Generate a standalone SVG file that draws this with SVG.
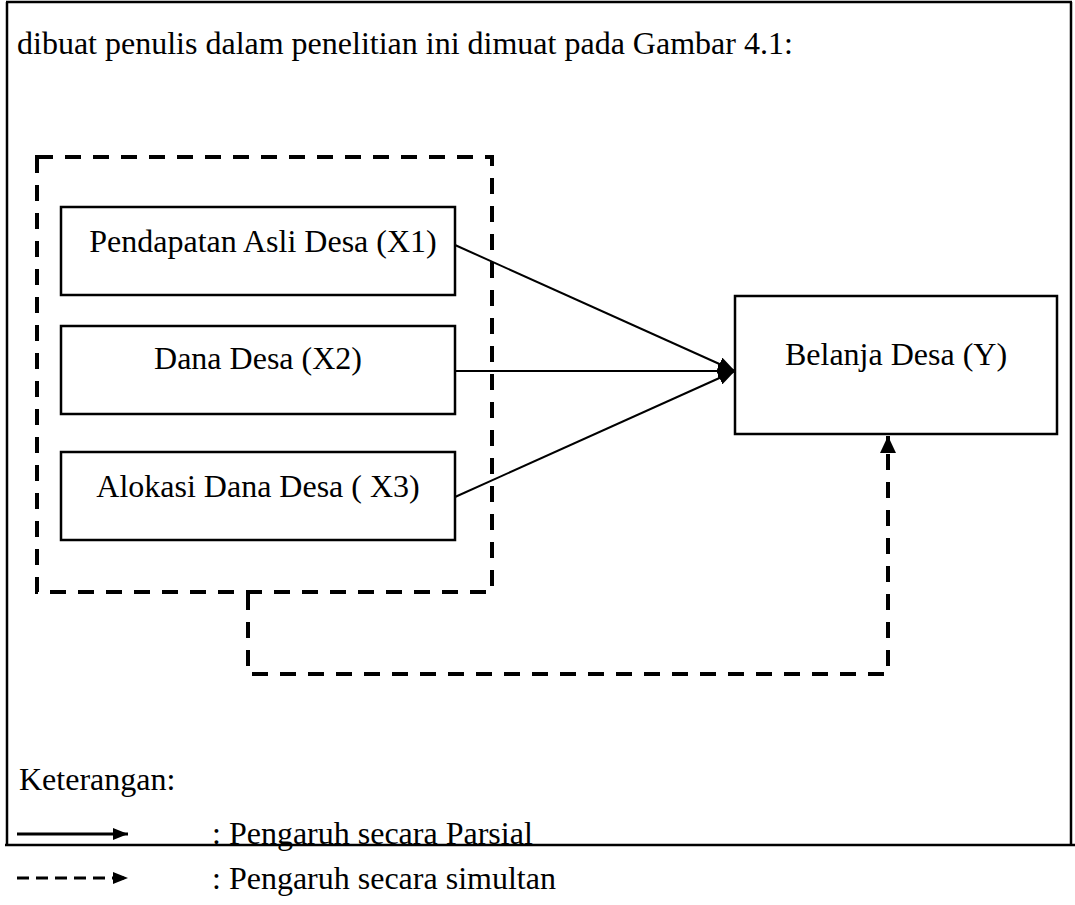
<svg xmlns="http://www.w3.org/2000/svg" width="1075" height="905" viewBox="0 0 1075 905">
<style>
  .txt { font-family: "Liberation Serif", "Times New Roman", serif; font-size: 32px; fill: #000; }
  .box { fill: #fff; stroke: #000; stroke-width: 2.5; }
  .solid { fill: none; stroke: #000; stroke-width: 2; }
  .dash { fill: none; stroke: #000; stroke-width: 4; stroke-dasharray: 16 12; }
  .frame { fill: none; stroke: #000; stroke-width: 2.5; }
</style>
<defs>
  <marker id="headS" markerUnits="userSpaceOnUse" markerWidth="18" markerHeight="14" refX="17" refY="7" orient="auto">
    <path d="M0,0 L17,7 L0,14 z" fill="#000"/>
  </marker>
  <marker id="headD" markerUnits="userSpaceOnUse" markerWidth="18" markerHeight="16" refX="17" refY="8" orient="auto">
    <path d="M0,0 L17,8 L0,16 z" fill="#000"/>
  </marker>
  <marker id="headL" markerUnits="userSpaceOnUse" markerWidth="16" markerHeight="12" refX="15" refY="6" orient="auto">
    <path d="M0,0 L15,6 L0,12 z" fill="#000"/>
  </marker>
</defs>
<rect width="1075" height="905" fill="#fff"/>
<g id="frame">
  <line class="frame" x1="6" y1="2" x2="1072" y2="2"/>
  <line class="frame" x1="7" y1="2" x2="7" y2="845"/>
  <line class="frame" x1="1071" y1="2" x2="1071" y2="845"/>
  <line class="frame" x1="5" y1="845" x2="1075" y2="845"/>
</g>
<text class="txt" x="17" y="54">dibuat penulis dalam penelitian ini dimuat pada Gambar 4.1:</text>
<g id="group-box">
  <rect class="dash" x="37" y="157" width="455" height="435"/>
</g>
<g id="x1">
  <rect class="box" x="61" y="207" width="394" height="88"/>
  <text class="txt" x="263" y="252" text-anchor="middle">Pendapatan Asli Desa (X1)</text>
</g>
<g id="x2">
  <rect class="box" x="61" y="326" width="394" height="88"/>
  <text class="txt" x="258" y="369" text-anchor="middle">Dana Desa (X2)</text>
</g>
<g id="x3">
  <rect class="box" x="61" y="452" width="394" height="88"/>
  <text class="txt" x="258" y="497" text-anchor="middle">Alokasi Dana Desa ( X3)</text>
</g>
<g id="y">
  <rect class="box" x="735" y="296" width="322" height="138"/>
  <text class="txt" x="896" y="365" text-anchor="middle">Belanja Desa (Y)</text>
</g>
<g id="connectors">
  <line class="solid" x1="455" y1="245" x2="735" y2="371" marker-end="url(#headS)"/>
  <line class="solid" x1="455" y1="371" x2="735" y2="371" marker-end="url(#headS)"/>
  <line class="solid" x1="455" y1="497" x2="735" y2="371" marker-end="url(#headS)"/>
  <path class="dash" d="M248,594 L248,674 L888,674 L888,436" marker-end="url(#headD)"/>
</g>
<g id="legend">
  <text class="txt" x="19" y="790">Keterangan:</text>
  <line x1="17" y1="834" x2="128" y2="834" stroke="#000" stroke-width="3" marker-end="url(#headL)"/>
  <text class="txt" x="212" y="844">: Pengaruh secara Parsial</text>
  <line x1="17" y1="878" x2="128" y2="878" stroke="#000" stroke-width="3" stroke-dasharray="12 7" marker-end="url(#headL)"/>
  <text class="txt" x="212" y="889">: Pengaruh secara simultan</text>
</g>
</svg>
